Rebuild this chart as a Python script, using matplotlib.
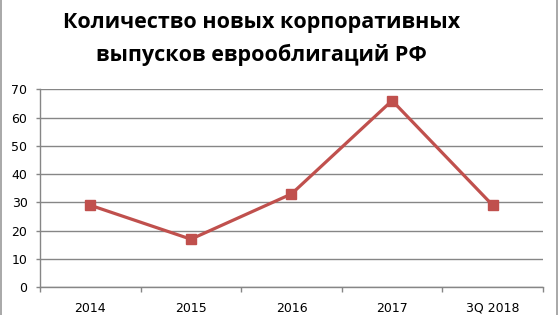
import matplotlib
matplotlib.use("Agg")
import matplotlib.pyplot as plt
from matplotlib.lines import Line2D
from matplotlib.ticker import FixedLocator

categories = ["2014", "2015", "2016", "2017", "3Q 2018"]
issues = [29, 17, 33, 66, 29]
y_ticks = [0, 10, 20, 30, 40, 50, 60, 70]

TITLE = "Количество новых корпоративных\nвыпусков еврооблигаций РФ"
RED = "#C0504D"
GRID = "#868686"

fig = plt.figure(figsize=(5.6, 3.15), dpi=100)
fig.patch.set_facecolor("white")
ax = fig.add_axes([0.0714, 0.088, 0.8982, 0.6286])

x = list(range(len(categories)))
ax.plot(x, issues, color=RED, lw=2.3, marker="s", ms=6.5,
        markerfacecolor=RED, markeredgecolor=RED, zorder=3)

ax.set_xlim(-0.5, len(categories) - 0.5)
ax.set_ylim(0, 70)
ax.set_yticks(y_ticks)
ax.set_yticklabels([str(v) for v in y_ticks])
ax.set_xticks(x)
ax.set_xticklabels(categories)
ax.xaxis.set_minor_locator(FixedLocator([i - 0.5 for i in range(len(categories) + 1)]))

ax.yaxis.grid(True, color=GRID, lw=1)
ax.set_axisbelow(True)
for s in ["top", "right"]:
    ax.spines[s].set_visible(False)
for s in ["left", "bottom"]:
    ax.spines[s].set_color(GRID)
    ax.spines[s].set_linewidth(1)

ax.tick_params(axis="x", which="major", length=0, pad=10.5, labelsize=9, colors="black")
ax.tick_params(axis="x", which="minor", length=3.5, color=GRID, width=1)
ax.tick_params(axis="y", length=3, color=GRID, width=1, pad=6, labelsize=9, labelcolor="black")

fig.text(0.467, 0.962, TITLE, ha="center", va="top", fontsize=15.5,
         fontweight="bold", family="Open Sans", linespacing=1.65)

# chart frame edges
fig.add_artist(Line2D([0.001, 0.001], [0, 1], color="#9a9a9a", lw=1.2, transform=fig.transFigure))
fig.add_artist(Line2D([0.995, 0.995], [0, 1], color="#9a9a9a", lw=1.2, transform=fig.transFigure))

fig.savefig("out.png", dpi=100)
